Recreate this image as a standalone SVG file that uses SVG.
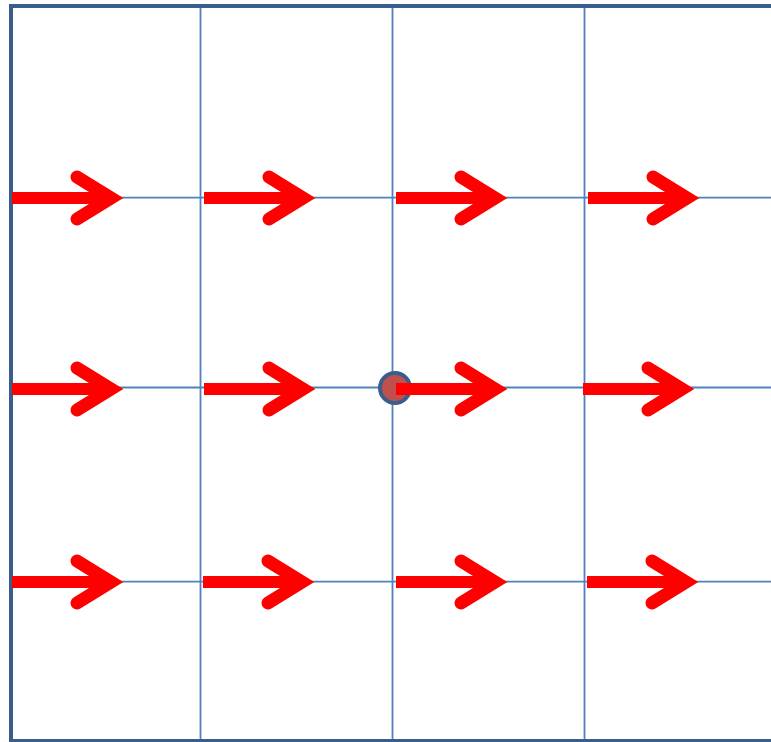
<svg xmlns="http://www.w3.org/2000/svg" xmlns:xlink="http://www.w3.org/1999/xlink" width="771" height="742" viewBox="0 0 771 742">
  <style>
    .grid { stroke: #4F81BD; stroke-width: 1.8; fill: none; }
    .border { stroke: #3A5E8C; stroke-width: 4; fill: none; }
    .shaft { stroke: #FF0000; stroke-width: 12; fill: none; stroke-linecap: butt; }
    .head { stroke: #FF0000; stroke-width: 13; fill: none; stroke-linecap: round; stroke-linejoin: miter; stroke-miterlimit: 6; }
  </style>
  <defs>
    <g id="arrow">
      <path class="shaft" d="M0,0 H102"/>
      <path class="head" d="M65,-21 L99,0 L65,21"/>
    </g>
  </defs>
  <rect width="771" height="742" fill="#FFFFFF"/>
  <g id="grid">
    <path class="grid" d="M200.5,6 V741 M392.5,6 V741 M584.5,6 V741"/>
    <path class="grid" d="M11,197.7 H771 M11,387.5 H771 M11,581.7 H771"/>
  </g>
  <g id="frame">
    <path class="border" d="M771,6 H11 V741 H771"/>
  </g>
  <g id="point">
    <circle cx="395" cy="388" r="15" fill="#C0504D" stroke="#3A5E8C" stroke-width="4"/>
  </g>
  <g id="connectors">
    <use xlink:href="#arrow" x="12" y="198"/>
    <use xlink:href="#arrow" x="204" y="198"/>
    <use xlink:href="#arrow" x="396" y="198"/>
    <use xlink:href="#arrow" x="588" y="198"/>
    <use xlink:href="#arrow" x="12" y="389"/>
    <use xlink:href="#arrow" x="204" y="389"/>
    <use xlink:href="#arrow" x="396" y="389"/>
    <use xlink:href="#arrow" x="583" y="389"/>
    <use xlink:href="#arrow" x="12" y="582"/>
    <use xlink:href="#arrow" x="203" y="582"/>
    <use xlink:href="#arrow" x="396" y="582"/>
    <use xlink:href="#arrow" x="587" y="582"/>
  </g>
</svg>
